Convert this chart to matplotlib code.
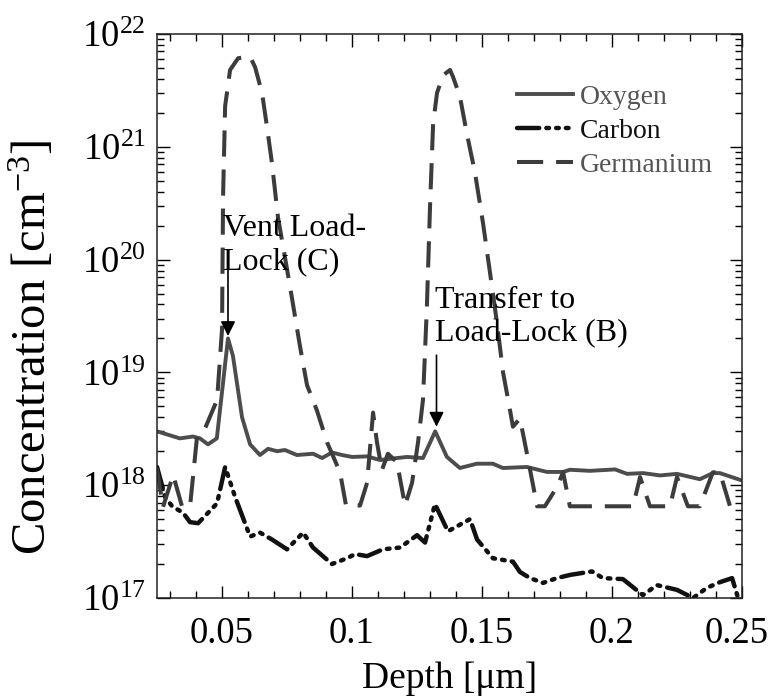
import matplotlib
matplotlib.use("Agg")
import matplotlib.pyplot as plt
import matplotlib.transforms as mtransforms
from matplotlib.ticker import LogLocator, MultipleLocator, NullFormatter, FixedLocator

plt.rcParams['font.family'] = ['Liberation Serif', 'DejaVu Serif']
plt.rcParams['mathtext.fontset'] = 'custom'
plt.rcParams['mathtext.rm'] = 'Liberation Serif'
plt.rcParams['mathtext.it'] = 'Liberation Serif:italic'

# ---- data (depth in um, concentration in cm^-3) ----
oxy_depth = [0.025, 0.0338, 0.0388, 0.0415, 0.0446, 0.048, 0.0523, 0.0542, 0.0577, 0.0608,
             0.0646, 0.0677, 0.0712, 0.0742, 0.0788, 0.085, 0.0885, 0.0923, 0.0962, 0.100,
             0.1058, 0.1108, 0.1173, 0.1212, 0.1273, 0.132, 0.1365, 0.1415, 0.148, 0.1542,
             0.158, 0.1673, 0.175, 0.1812, 0.1838, 0.1915, 0.2012, 0.2058, 0.2119, 0.2185,
             0.225, 0.2338, 0.2388, 0.2415, 0.25]
oxy_conc = [3.0e18, 2.6e18, 2.7e18, 2.6e18, 2.3e18, 2.6e18, 2.0e19, 1.4e19, 4.0e18, 2.3e18,
            1.85e18, 2.1e18, 2.0e18, 2.05e18, 1.85e18, 1.9e18, 1.74e18, 1.95e18, 1.85e18, 1.78e18,
            1.8e18, 1.67e18, 1.74e18, 1.78e18, 1.74e18, 3.0e18, 1.78e18, 1.42e18, 1.55e18, 1.55e18,
            1.42e18, 1.45e18, 1.31e18, 1.31e18, 1.37e18, 1.34e18, 1.38e18, 1.26e18, 1.28e18, 1.22e18,
            1.26e18, 1.13e18, 1.28e18, 1.28e18, 1.1e18]

carb_depth = [0.025, 0.0281, 0.0308, 0.035, 0.0377, 0.0408, 0.0481, 0.0512, 0.055, 0.0608,
              0.0646, 0.0692, 0.075, 0.0812, 0.085, 0.0923, 0.0981, 0.1012, 0.1058, 0.1119,
              0.1185, 0.125, 0.1281, 0.1319, 0.1369, 0.1454, 0.1481, 0.1542, 0.1619, 0.1646,
              0.1685, 0.1735, 0.1788, 0.1838, 0.1923, 0.1965, 0.2042, 0.2119, 0.2173, 0.225,
              0.2312, 0.2365, 0.2415, 0.2462, 0.2485, 0.25]
carb_conc = [1.45e18, 7.9e17, 6.5e17, 5.7e17, 4.7e17, 4.6e17, 6.9e17, 1.45e18, 7.9e17, 3.5e17,
             3.8e17, 3.3e17, 2.7e17, 3.8e17, 2.8e17, 2.0e17, 2.25e17, 2.45e17, 2.35e17, 2.7e17,
             2.8e17, 3.6e17, 3.1e17, 6.8e17, 3.9e17, 5.0e17, 3.3e17, 2.25e17, 2.1e17, 1.7e17,
             1.5e17, 1.36e17, 1.5e17, 1.6e17, 1.72e17, 1.5e17, 1.47e17, 1.06e17, 1.3e17, 1.18e17,
             1.0e17, 1.23e17, 1.38e17, 1.5e17, 1.0e17, 8.0e16]

ge_depth = [0.025, 0.0273, 0.0312, 0.0346, 0.0377, 0.0404, 0.0435, 0.0481, 0.050, 0.0504,
            0.0512, 0.0531, 0.0562, 0.0608, 0.0627, 0.0654, 0.0673, 0.0692, 0.0715, 0.0735,
            0.0762, 0.080, 0.0827, 0.0865, 0.0904, 0.0954, 0.0977, 0.1031, 0.1058, 0.1081,
            0.1096, 0.1115, 0.1138, 0.1173, 0.1204, 0.1231, 0.1254, 0.1273, 0.1288, 0.130,
            0.1312, 0.1327, 0.135, 0.1377, 0.1388, 0.1415, 0.1442, 0.1473, 0.1504, 0.1531,
            0.1558, 0.1581, 0.1608, 0.1619, 0.1646, 0.1673, 0.1712, 0.1742, 0.1788, 0.1812,
            0.1838, 0.2081, 0.2108, 0.2146, 0.2223, 0.225, 0.2292, 0.2338, 0.2388, 0.2415,
            0.2454]
ge_conc = [1.4e18, 6.4e17, 1.23e18, 6.5e17, 6.5e17, 2.7e18, 3.2e18, 5.7e18, 2.4e19, 3.6e20,
           2.3e21, 4.8e21, 6.1e21, 6.3e21, 5.1e21, 3.0e21, 1.5e21, 7.2e20, 2.4e20, 1.3e20,
           5.7e19, 1.7e19, 7.7e18, 4.6e18, 2.4e18, 1.3e18, 6.6e17, 6.6e17, 1.05e18, 4.4e18,
           2.4e18, 1.36e18, 1.9e18, 1.6e18, 6.6e17, 1.05e18, 2.4e18, 5.7e18, 3.8e19, 2.9e20,
           1.6e21, 3.0e21, 4.3e21, 4.8e21, 4.2e21, 2.8e21, 1.3e21, 5.9e20, 2.1e20, 7.6e19,
           2.7e19, 1.0e19, 4.6e18, 3.3e18, 3.9e18, 1.9e18, 6.5e17, 6.5e17, 9.6e17, 1.3e18,
           6.5e17, 6.5e17, 1.18e18, 6.5e17, 6.5e17, 1.18e18, 6.5e17, 6.5e17, 1.3e18, 1.3e18,
           6.5e17]

xticks = [0.05, 0.1, 0.15, 0.2, 0.25]
xtick_labels = ['0.05', '0.1', '0.15', '0.2', '0.25']

fig = plt.figure(figsize=(7.72, 6.98), dpi=100)
ax = fig.add_axes([0.2034, 0.1433, 0.7577, 0.808])

ax.plot(oxy_depth, oxy_conc, color='#4d4d4d', lw=2.8, label='Oxygen')
ax.plot(carb_depth, carb_conc, color='#111111', lw=3.2, label='Carbon',
        linestyle=(0, (5, 1.6, 0.6, 1.6, 0.6, 1.6, 0.6, 1.6)), dash_capstyle='round')
ax.plot(ge_depth, ge_conc, color='#3c3c3c', lw=2.9, label='Germanium',
        linestyle=(0, (6.5, 3.2)))

ax.set_yscale('log')
ax.set_xlim(0.025, 0.25)
ax.set_ylim(1e17, 1e22)

ax.xaxis.set_major_locator(FixedLocator(xticks))
ax.set_xticklabels(xtick_labels)
ax.xaxis.set_minor_locator(MultipleLocator(0.01))
ax.yaxis.set_major_locator(LogLocator(base=10, numticks=10))
ax.yaxis.set_minor_locator(LogLocator(base=10, subs=range(2, 10), numticks=20))
ax.yaxis.set_minor_formatter(NullFormatter())

ax.tick_params(which='both', direction='in', top=True, right=True, labelsize=26.5)
ax.tick_params(axis='x', pad=13)
ax.tick_params(axis='y', pad=8)
ax.tick_params(which='major', length=9, width=1)
ax.tick_params(which='minor', length=5, width=1)
for s in ax.spines.values():
    s.set_linewidth(1.1)
    s.set_color('#222222')

# nudge the last x tick label slightly left so it stays inside the figure
last = ax.get_xticklabels()[-1]
last.set_transform(last.get_transform() + mtransforms.ScaledTranslation(-5 / 100, 0, fig.dpi_scale_trans))

ax.set_xlabel('Depth [\u03bcm]', fontsize=27, labelpad=8)
ax.set_ylabel('Concentration [cm$^{-3}$]', fontsize=35)
ax.yaxis.set_label_coords(-0.172, 0.445)

ax.annotate('', xy=(0.0523, 2.1e19), xytext=(0.0523, 9.5e19),
            arrowprops=dict(arrowstyle='-|>', color='black', lw=1.2, mutation_scale=22,
                            shrinkA=0, shrinkB=0))
ax.text(0.0505, 1.35e20, 'Vent Load-\nLock (C)', fontsize=23, ha='left', va='center',
        linespacing=1.2)
ax.annotate('', xy=(0.1325, 3.3e18), xytext=(0.1325, 1.42e19),
            arrowprops=dict(arrowstyle='-|>', color='black', lw=1.2, mutation_scale=22,
                            shrinkA=0, shrinkB=0))
ax.text(0.1318, 3.1e19, 'Transfer to\nLoad-Lock (B)', fontsize=23, ha='left', va='center',
        linespacing=1.2)

leg = ax.legend(loc='upper left', bbox_to_anchor=(0.592, 0.935), frameon=False, fontsize=20,
                handlelength=2.0, handletextpad=0.25, labelspacing=0.3, borderpad=0)
for txt, c in zip(leg.get_texts(), ['#555555', '#111111', '#555555']):
    txt.set_color(c)

fig.savefig('out.png', dpi=100)
